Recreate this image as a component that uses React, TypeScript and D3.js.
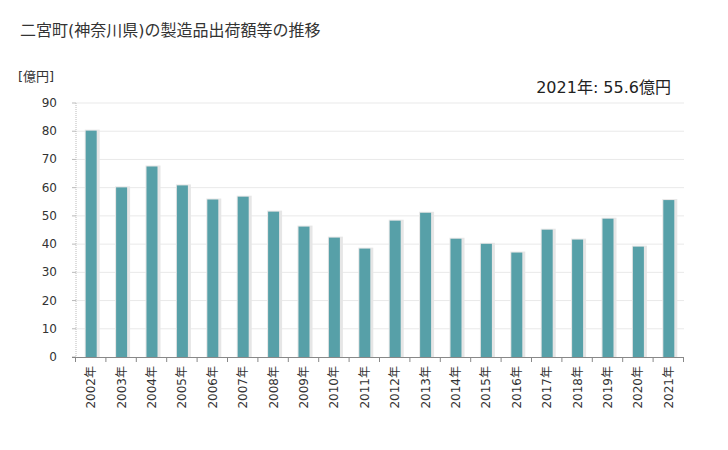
import React from 'react';
import { scaleBand, scaleLinear } from 'd3';

const years = ['2002年', '2003年', '2004年', '2005年', '2006年', '2007年', '2008年', '2009年', '2010年', '2011年',
  '2012年', '2013年', '2014年', '2015年', '2016年', '2017年', '2018年', '2019年', '2020年', '2021年'];
const values = [80.2, 60.1, 67.5, 60.8, 55.8, 56.8, 51.5, 46.2, 42.3, 38.4,
  48.3, 51.1, 41.9, 40.1, 37.0, 45.1, 41.6, 49.0, 39.1, 55.6];
const yTicks = [0, 10, 20, 30, 40, 50, 60, 70, 80, 90];

const W = 728;
const H = 450;
const left = 76;
const right = 684;
const top = 103;
const bottom = 357;
const font = '"DejaVu Sans", "Noto Sans CJK JP", sans-serif';

const App = () => {
  const x = scaleBand().domain(years).range([left, right]).paddingInner(0).paddingOuter(0);
  const y = scaleLinear().domain([0, 90]).range([bottom, top]);
  const bw = 11;

  return (
    <svg width={W} height={H} style={{ position: 'absolute', left: 0, top: 0 }} fontFamily={font}>
      <rect width={W} height={H} fill="#fff" />
      <text x={20} y={36} fontSize={16} fill="#333">二宮町(神奈川県)の製造品出荷額等の推移</text>
      <text x={18} y={81} fontSize={13} fill="#333">[億円]</text>
      <text x={671} y={93} fontSize={16} fill="#222" textAnchor="end">2021年: 55.6億円</text>

      {/* grid + y ticks */}
      {yTicks.map(t => (
        <g key={t}>
          {t > 0 && <line x1={left} x2={right} y1={y(t)} y2={y(t)} stroke="#e9e9e9" />}
          <line x1={left - 4} x2={left} y1={y(t)} y2={y(t)} stroke="#bbb" />
          <text x={57} y={y(t) + 4} fontSize={12} fill="#333" textAnchor="end">{t}</text>
        </g>
      ))}
      <line x1={left} x2={left} y1={top} y2={bottom} stroke="#bbb" strokeDasharray="1,1" />

      {/* bars */}
      {years.map((yr, i) => {
        const cx = (x(yr) as number) + x.bandwidth() / 2;
        return (
          <g key={yr}>
            <rect x={cx - bw / 2 - 1} y={y(values[i]) - 1} width={bw + 4} height={bottom - y(values[i]) + 1} fill="#e6e6e6" />
            <rect x={cx - bw / 2} y={y(values[i])} width={bw} height={bottom - y(values[i])} fill="#57a0a8" />
          </g>
        );
      })}

      {/* x axis */}
      <line x1={left - 4} x2={right} y1={bottom + 0.5} y2={bottom + 0.5} stroke="#888" />
      {years.map(yr => (
        <line key={'t' + yr} x1={(x(yr) as number) - 0.5} x2={(x(yr) as number) - 0.5} y1={bottom} y2={bottom + 5} stroke="#888" />
      ))}
      <line x1={right - 0.5} x2={right - 0.5} y1={bottom} y2={bottom + 5} stroke="#888" />
      {years.map(yr => {
        const cx = (x(yr) as number) + x.bandwidth() / 2;
        return (
          <text key={'l' + yr} transform={`translate(${cx + 4},${366}) rotate(-90)`} fontSize={12} fill="#333" textAnchor="end">{yr}</text>
        );
      })}
    </svg>
  );
};

export default App;
